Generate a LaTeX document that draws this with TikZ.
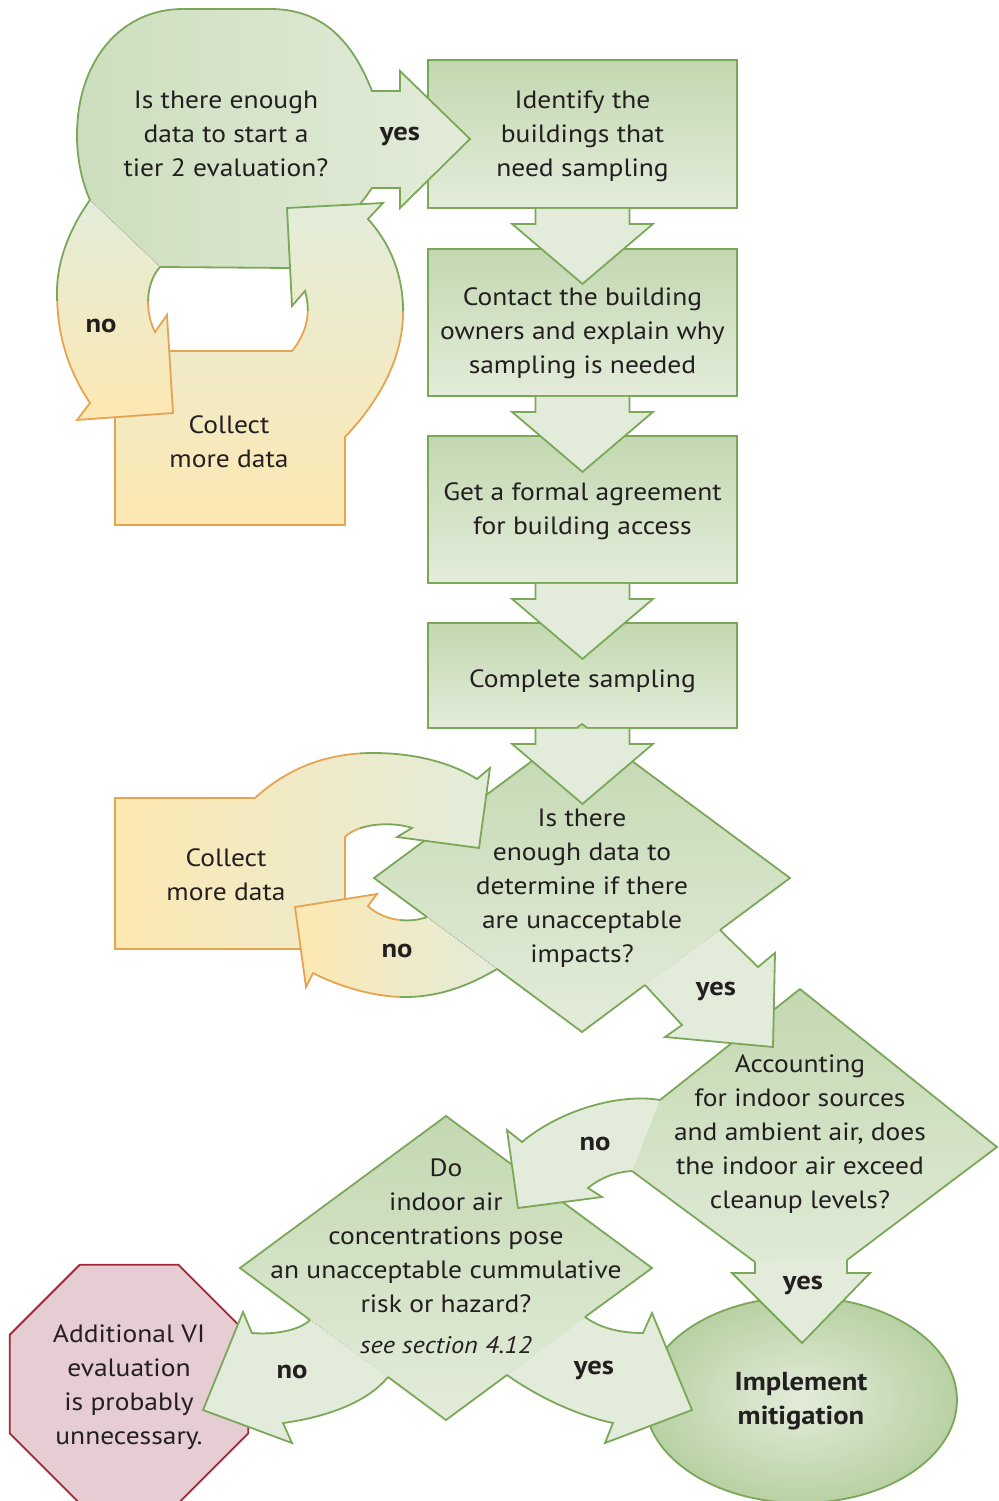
\documentclass[tikz,border=0pt]{standalone}
\usepackage{fontspec}
\setmainfont[FakeStretch=1.1]{PT Sans}
\usetikzlibrary{shapes,arrows,calc}

\definecolor{gline}{RGB}{122,168,88}
\definecolor{gdark}{RGB}{195,216,177}
\definecolor{glight}{RGB}{227,236,218}
\definecolor{yfill}{RGB}{253,232,178}
\definecolor{oline}{RGB}{230,164,82}
\definecolor{pfill}{RGB}{230,205,211}
\definecolor{pline}{RGB}{163,38,55}
\definecolor{ink}{RGB}{35,31,32}

\newcommand{\downflow}[1]{%
  \draw[flow arrow] ($(#1.south)+(-47,0)$) -- ++(0,15) -- ++(-23.5,0) -- ++(70.5,60)
    -- ++(70.5,-60) -- ++(-23.5,0) -- ++(0,-15);}
\newcommand{\topnopath}{(90,200) .. controls (72,225) and (57,258) .. (57,292)
  .. controls (57,335) and (68,370) .. (90,403) -- (77,420) -- (173,413) -- (167,315)
  -- (155,332) .. controls (146,315) and (144,285) .. (160,267)}
\newcommand{\backpath}{(292,351) -- (115,351) -- (115,525) -- (345,525) -- (345,437)
  .. controls (385,395) and (405,350) .. (403,305) .. controls (401,265) and (385,238) .. (368,219)
  -- (383,203) -- (287,208) -- (292,306) -- (305,291) .. controls (312,315) and (305,335) .. (292,351) -- cycle}
\newcommand{\lowbackpath}{(345,837) -- (345,949) -- (115,949) -- (115,798) -- (255,798)
  .. controls (290,766) and (330,753) .. (373,753) .. controls (420,753) and (455,765) .. (477,779)
  -- (490,768) -- (479,848) -- (397,837) -- (412,828) .. controls (395,822) and (360,822) .. (345,837) -- cycle}
\newcommand{\lownopath}{(497,969) .. controls (470,985) and (440,997) .. (405,997)
  .. controls (375,997) and (340,987) .. (313,973) -- (306,987) -- (295,907) -- (377,894)
  -- (368,906) .. controls (380,918) and (405,925) .. (427,917)}

\begin{document}
\begin{tikzpicture}[x=1pt,y=-1pt,line width=1.8pt,
  green box/.style={draw=gline,top color=gdark,middle color=glight,bottom color=glight,
    minimum width=309pt,inner sep=0pt},
  flow arrow/.style={draw=gline,fill=glight},
  green diamond/.style={top color=gdark,middle color=glight,bottom color=glight},
  text node/.style={align=center,text=ink,inner sep=0pt,font=\fontsize{25}{34}\selectfont},
  answer/.style={align=center,text=ink,inner sep=0pt,font=\fontsize{26}{34}\selectfont\bfseries}]

  \useasboundingbox (0,0) rectangle (998,1501);

  \node[green box,minimum height=148pt] (ident) at (582.5,134) {};
  \node[green box,minimum height=147pt] (contact) at (582.5,322.5) {};
  \node[green box,minimum height=147pt] (agree) at (582.5,509.5) {};
  \node[green box,minimum height=105pt] (sample) at (582.5,675.5) {};

  \fill[green diamond] (374,878) -- (582,724) -- (790,878) -- (582,1032) -- cycle;
  \draw[gline] (427,917) -- (374,878) -- (582,724) -- (790,878) -- (720,930);
  \draw[gline] (497,969) -- (582,1032) -- (645,985);

  \fill[green diamond] (600,1147) -- (800,989) -- (997,1147) -- (800,1295) -- cycle;
  \draw[gline] (660,1100) -- (800,989) -- (997,1147) -- (847,1260);
  \draw[gline] (755,1262) -- (632,1171);

  \fill[green diamond] (240,1268) -- (446,1116) -- (652,1268) -- (446,1420) -- cycle;
  \draw[gline] (310,1320) -- (240,1268) -- (446,1116) -- (652,1268) -- (585,1317);
  \draw[gline] (507,1375) -- (446,1420) -- (388,1377);

  \node[ellipse,draw=gline,inner color=glight,outer color=gdark!85!gline,minimum width=312pt,
    minimum height=206pt] (mitig) at (801,1400) {};
  \node[regular polygon,regular polygon sides=8,draw=pline,fill=pfill,minimum size=258pt,
    inner sep=0pt] (octa) at (129,1384) {};

  \draw[draw=gline,left color=gdark!70!glight,middle color=glight,right color=glight]
    (160,267) -- (290,268) -- (340,222) .. controls (360,205) .. (372,188) -- (400,188)
    -- (400,208) -- (470,139) -- (400,71) -- (400,91) -- (372,91)
    .. controls (350,35) and (318,9) .. (270,9) -- (183,9)
    .. controls (120,9) and (77,62) .. (77,135) .. controls (77,160) and (82,182) .. (90,200);

  \fill[top color=glight,middle color=yfill,bottom color=yfill] \backpath;
  \begin{scope}
    \clip (0,310) rectangle (998,1501);
    \draw[oline] \backpath;
  \end{scope}
  \begin{scope}
    \clip (0,0) rectangle (998,310);
    \draw[gline] \backpath;
  \end{scope}

  \fill[top color=glight,bottom color=yfill] \topnopath;
  \begin{scope}
    \clip (0,300) rectangle (998,1501);
    \draw[oline] \topnopath;
  \end{scope}
  \begin{scope}
    \clip (0,0) rectangle (998,300);
    \draw[gline] \topnopath;
  \end{scope}

  \fill[left color=yfill,middle color=yfill,right color=glight] \lowbackpath;
  \begin{scope}
    \clip (0,0) rectangle (360,1501);
    \draw[oline] \lowbackpath;
  \end{scope}
  \begin{scope}
    \clip (360,0) rectangle (998,1501);
    \draw[gline] \lowbackpath;
  \end{scope}

  \fill[left color=yfill,right color=glight] \lownopath;
  \begin{scope}
    \clip (0,0) rectangle (400,1501);
    \draw[oline] \lownopath;
  \end{scope}
  \begin{scope}
    \clip (400,0) rectangle (998,1501);
    \draw[gline] \lownopath;
  \end{scope}

  \downflow{ident}
  \downflow{contact}
  \downflow{agree}
  \downflow{sample}

  \draw[flow arrow] (720,930) -- (758,967) -- (775,953) -- (773,1047) -- (665,1037)
    -- (682,1025) -- (645,985);
  \draw[flow arrow] (660,1100) .. controls (620,1093) and (560,1110) .. (522,1142) -- (507,1130)
    -- (518,1208) -- (602,1197) -- (588,1188) .. controls (600,1178) and (615,1172) .. (632,1171);
  \draw[flow arrow] (755,1262) -- (755,1273) -- (732,1273) -- (802,1343) -- (870,1273)
    -- (847,1273) -- (847,1260);
  \draw[flow arrow] (310,1320) .. controls (300,1330) and (275,1335) .. (252,1333) -- (243,1312)
    -- (203,1410) -- (292,1443) -- (283,1423) .. controls (320,1418) and (365,1405) .. (388,1377);
  \draw[flow arrow] (585,1317) .. controls (600,1328) and (620,1333) .. (643,1333) -- (652,1313)
    -- (692,1410) -- (605,1443) -- (613,1423) .. controls (575,1415) and (535,1395) .. (507,1375);

  \node[text node] (q1) at (226,134) {Is there enough\\data to start a\\tier 2 evaluation?};
  \node[answer] (yes1) at (400,136) {yes};
  \node[answer] (no1) at (101,326) {no};
  \node[text node] (c1) at (229,442) {Collect\\more data};
  \node[text node] (s1) at ([yshift=-2pt]ident.center) {Identify the\\buildings that\\need sampling};
  \node[text node] (s2) at ([yshift=-11pt]contact.center) {Contact the building\\owners and explain why\\sampling is needed};
  \node[text node] (s3) at ([yshift=-2pt]agree.center) {Get a formal agreement\\for building access};
  \node[text node] (s4) at ([yshift=-6pt]sample.center) {Complete sampling};
  \node[text node] (q2) at (582,888) {Is there\\enough data to\\determine if there\\are unacceptable\\impacts?};
  \node[text node] (c2) at (226,875) {Collect\\more data};
  \node[answer] (no2) at (397,951) {no};
  \node[answer] (yes2) at (716,991) {yes};
  \node[text node] (q3) at (800,1134) {Accounting\\for indoor sources\\and ambient air, does\\the indoor air exceed\\cleanup levels?};
  \node[answer] (no3) at (595,1144) {no};
  \node[answer] (yes3) at (803,1285) {yes};
  \node[text node] (q4) at (446,1236) {Do\\indoor air\\concentrations pose\\an unacceptable cummulative\\risk or hazard?};
  \node[text node,font=\fontsize{24}{30}\selectfont\itshape] (ref4) at (446,1345) {see section 4.12};
  \node[answer] (no4) at (292,1372) {no};
  \node[answer] (yes4) at (594,1370) {yes};
  \node[text node] (stop) at ([yshift=-3pt]octa.center) {Additional VI\\evaluation\\is probably\\unnecessary.};
  \node[answer] (impl) at ([yshift=-1pt]mitig.center) {Implement\\mitigation};
\end{tikzpicture}
\end{document}
